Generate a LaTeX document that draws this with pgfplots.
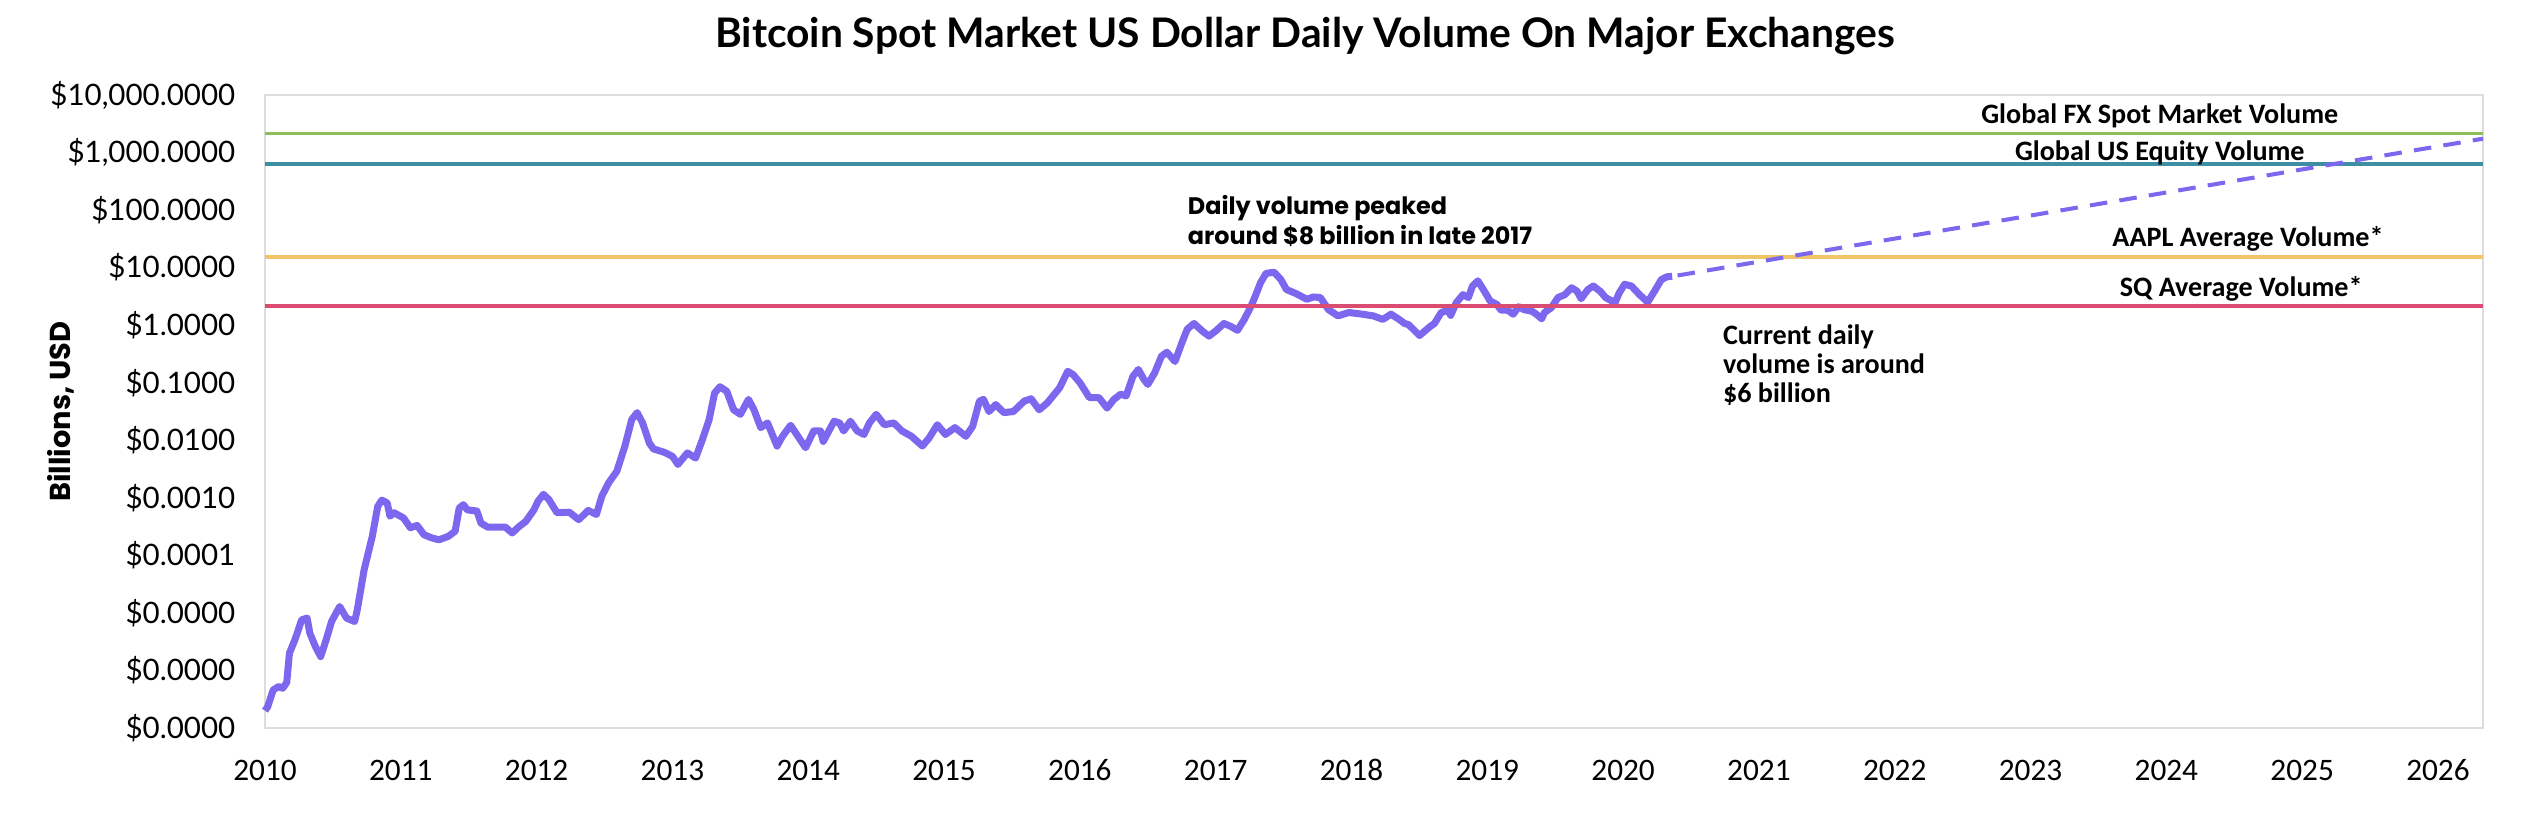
\documentclass[border=0pt]{standalone}
\usepackage{pgfplots}
\pgfplotsset{compat=1.18}
\usepackage{fontspec}
\setmainfont{Lato}
\newfontfamily\calib{Carlito}
\newfontfamily\pop{Poppins}

\definecolor{btc}{RGB}{123,104,238}
\definecolor{fxgreen}{RGB}{140,189,94}
\definecolor{eqteal}{RGB}{61,143,163}
\definecolor{aaplyel}{RGB}{242,196,104}
\definecolor{sqred}{RGB}{219,76,114}
\definecolor{frame}{RGB}{221,221,221}

\begin{document}
\begin{tikzpicture}
\begin{axis}[
  scale only axis,
  width=22.18cm, height=6.33cm,
  xmin=2010, xmax=2026.33,
  ymode=log, ymin=1e-7, ymax=1e4,
  xtick={2010,...,2026},
  xticklabels={2010,2011,2012,2013,2014,2015,2016,2017,2018,2019,2020,2021,2022,2023,2024,2025,2026},
  ytick={1e-7,1e-6,1e-5,1e-4,1e-3,1e-2,1e-1,1,10,100,1000,10000},
  yticklabels={\$0.0000,\$0.0000,\$0.0000,\$0.0001,\$0.0010,\$0.0100,\$0.1000,\$1.0000,\$10.0000,\$100.0000,{\$1,000.0000},{\$10,000.0000}},
  tick style={draw=none},
  axis line style={draw=frame, line width=0.5pt},
  yticklabel style={font=\fontsize{8.4}{10}\selectfont, anchor=east, inner sep=0pt, xshift=-0.29cm},
  xticklabel style={font=\calib\fontsize{8.9}{10}\selectfont, anchor=north, inner sep=0pt, text height=5.8pt, text depth=0pt, yshift=-0.31cm},
  clip=false,
  every axis plot/.append style={mark=none},
]

% daily volume, billions USD
\addplot[btc, line width=2pt, line join=round] coordinates {
(2010.00,2.0e-7) (2010.02,2.34e-7) (2010.06,4.57e-7) (2010.10,5.25e-7) (2010.13,4.90e-7)
(2010.16,6.17e-7) (2010.18,2.00e-6) (2010.22,3.39e-6) (2010.27,7.59e-6) (2010.31,8.13e-6)
(2010.33,4.47e-6) (2010.37,2.63e-6) (2010.41,1.74e-6) (2010.45,3.39e-6) (2010.49,7.08e-6)
(2010.55,1.29e-5) (2010.60,8.13e-6) (2010.66,7.08e-6) (2010.68,1.15e-5) (2010.73,5.62e-5)
(2010.79,2.14e-4) (2010.83,7.08e-4) (2010.86,9.12e-4) (2010.90,8.13e-4) (2010.92,4.79e-4)
(2010.95,5.50e-4) (2011.02,4.47e-4) (2011.07,3.02e-4) (2011.12,3.31e-4) (2011.17,2.29e-4)
(2011.22,2.04e-4) (2011.28,1.86e-4) (2011.35,2.14e-4) (2011.40,2.63e-4) (2011.43,6.61e-4)
(2011.46,7.59e-4) (2011.49,6.17e-4) (2011.56,5.89e-4) (2011.59,3.63e-4) (2011.64,3.09e-4)
(2011.69,3.09e-4) (2011.77,3.09e-4) (2011.82,2.45e-4) (2011.87,3.16e-4) (2011.92,3.89e-4)
(2011.98,6.17e-4) (2012.01,8.71e-4) (2012.05,1.15e-3) (2012.09,9.33e-4) (2012.15,5.50e-4)
(2012.24,5.62e-4) (2012.31,4.17e-4) (2012.38,6.03e-4) (2012.44,5.13e-4) (2012.48,1.07e-3)
(2012.53,1.82e-3) (2012.59,2.88e-3) (2012.65,7.94e-3) (2012.70,2.29e-2) (2012.74,3.02e-2)
(2012.78,2.00e-2) (2012.83,8.91e-3) (2012.86,7.08e-3) (2012.94,6.17e-3) (2013.00,5.25e-3)
(2013.04,3.80e-3) (2013.11,6.03e-3) (2013.17,4.90e-3) (2013.22,1.02e-2) (2013.27,2.29e-2)
(2013.31,6.61e-2) (2013.35,8.51e-2) (2013.40,7.08e-2) (2013.45,3.39e-2) (2013.50,2.82e-2)
(2013.56,5.13e-2) (2013.60,3.39e-2) (2013.65,1.66e-2) (2013.70,2.00e-2) (2013.77,7.94e-3)
(2013.81,1.17e-2) (2013.87,1.82e-2) (2013.98,7.41e-3) (2014.04,1.45e-2) (2014.09,1.45e-2)
(2014.11,9.55e-3) (2014.19,2.14e-2) (2014.23,2.00e-2) (2014.26,1.45e-2) (2014.31,2.14e-2)
(2014.36,1.45e-2) (2014.41,1.26e-2) (2014.45,2.00e-2) (2014.50,2.82e-2) (2014.56,1.86e-2)
(2014.63,2.00e-2) (2014.69,1.45e-2) (2014.76,1.17e-2) (2014.84,7.94e-3) (2014.89,1.10e-2)
(2014.95,1.86e-2) (2015.01,1.26e-2) (2015.08,1.66e-2) (2015.16,1.17e-2) (2015.21,1.74e-2)
(2015.26,4.79e-2) (2015.29,5.13e-2) (2015.33,3.16e-2) (2015.38,4.17e-2) (2015.44,3.02e-2)
(2015.51,3.16e-2) (2015.59,4.79e-2) (2015.64,5.25e-2) (2015.70,3.39e-2) (2015.76,4.47e-2)
(2015.85,8.13e-2) (2015.91,0.158) (2015.95,0.138) (2016.00,0.100) (2016.07,5.50e-2)
(2016.14,5.50e-2) (2016.20,3.63e-2) (2016.25,5.13e-2) (2016.30,6.31e-2) (2016.34,5.89e-2)
(2016.39,0.129) (2016.43,0.170) (2016.47,0.115) (2016.50,9.33e-2) (2016.55,0.148)
(2016.60,0.288) (2016.64,0.339) (2016.70,0.234) (2016.75,0.490) (2016.79,0.851)
(2016.84,1.07) (2016.90,0.794) (2016.95,0.646) (2017.00,0.794) (2017.06,1.07)
(2017.11,0.955) (2017.16,0.813) (2017.21,1.26) (2017.26,2.14) (2017.29,3.16)
(2017.33,5.50) (2017.37,7.94) (2017.43,8.32) (2017.48,6.17) (2017.52,4.17)
(2017.59,3.55) (2017.67,2.82) (2017.72,3.09) (2017.77,3.02) (2017.83,1.86)
(2017.90,1.45) (2017.98,1.66) (2018.08,1.55) (2018.16,1.45) (2018.23,1.26)
(2018.29,1.55) (2018.35,1.26) (2018.39,1.07) (2018.42,1.02) (2018.50,0.661)
(2018.58,0.955) (2018.61,1.07) (2018.66,1.66) (2018.71,1.82) (2018.73,1.48)
(2018.77,2.45) (2018.82,3.39) (2018.86,3.02) (2018.89,4.79) (2018.93,5.89)
(2018.97,4.17) (2019.02,2.63) (2019.07,2.29) (2019.10,1.82) (2019.15,1.82)
(2019.19,1.55) (2019.23,2.09) (2019.27,1.86) (2019.33,1.74) (2019.36,1.55)
(2019.40,1.29) (2019.42,1.66) (2019.47,2.00) (2019.52,3.02) (2019.57,3.39)
(2019.62,4.47) (2019.66,3.89) (2019.69,2.88) (2019.74,4.17) (2019.78,4.79)
(2019.83,3.89) (2019.87,3.02) (2019.94,2.45) (2019.97,3.63) (2020.01,5.13)
(2020.06,4.79) (2020.12,3.39) (2020.18,2.51) (2020.23,3.89) (2020.28,6.17)
(2020.32,6.92) (2020.36,7.08)
};

% reference volumes
\addplot[fxgreen, line width=1pt] coordinates {(2010,2128) (2026.33,2128)};
\addplot[eqteal, line width=1pt] coordinates {(2010,632) (2026.33,632)};
\addplot[aaplyel, line width=1pt] coordinates {(2010,15.3) (2026.33,15.3)};
\addplot[sqred, line width=1pt] coordinates {(2010,2.16) (2026.33,2.16)};

% projection
\addplot[btc, line width=1.15pt, dash pattern=on 5pt off 3.5pt] coordinates {(2020.40,7.3) (2026.33,1740)};

\node[font=\calib\bfseries\fontsize{8}{9}\selectfont] at (axis cs:2023.95,4315) {Global FX Spot Market Volume};
\node[font=\calib\bfseries\fontsize{8}{9}\selectfont] at (axis cs:2023.95,993) {Global US Equity Volume};
\node[font=\calib\bfseries\fontsize{8}{9}\selectfont] at (axis cs:2024.60,31.5) {AAPL Average Volume*};
\node[font=\calib\bfseries\fontsize{8}{9}\selectfont] at (axis cs:2024.55,4.26) {SQ Average Volume*};
\node[font=\pop\bfseries\fontsize{6.8}{8.5}\selectfont, align=left, anchor=west, inner sep=0pt] at (axis cs:2016.79,64.7) {Daily volume peaked\\around \$8 billion in late 2017};
\node[font=\calib\bfseries\fontsize{8}{8.3}\selectfont, align=left, anchor=west, inner sep=0pt] at (axis cs:2020.73,0.203) {Current daily\\volume is around\\\$6 billion};
\end{axis}

\node[font=\bfseries\fontsize{11.6}{13}\selectfont] at ([xshift=10.40cm, yshift=0.59cm]current axis.north west) {Bitcoin Spot Market US Dollar Daily Volume On Major Exchanges};
\node[font=\pop\bfseries\fontsize{8.2}{10}\selectfont, rotate=90] at ([xshift=-2.04cm]current axis.west) {Billions, USD};

\pgfresetboundingbox
\path[use as bounding box] ([xshift=-2.65cm,yshift=-0.90cm]current axis.south west) rectangle ([xshift=0.51cm,yshift=0.95cm]current axis.north east);
\end{tikzpicture}
\end{document}
